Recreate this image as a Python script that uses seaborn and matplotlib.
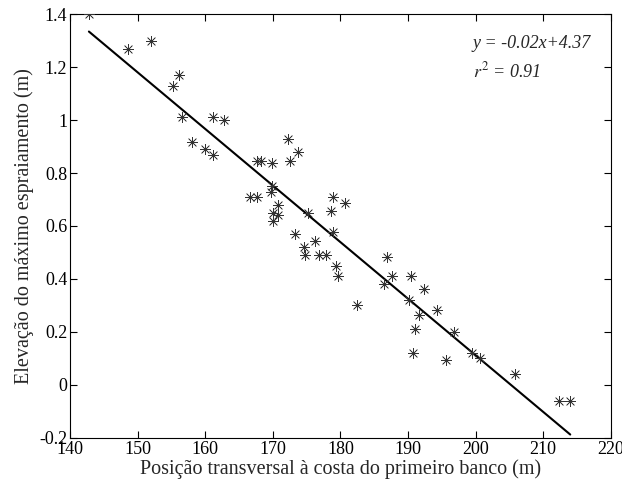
import numpy as np
import pandas as pd
import seaborn as sns
import matplotlib.pyplot as plt
from matplotlib.ticker import FuncFormatter

# Data
posicao = [142.8, 148.6, 152.0, 156.1, 155.3, 156.6, 161.2, 162.8, 158.1, 159.9,
           161.2, 172.3, 173.8, 167.6, 168.3, 169.9, 172.6, 169.9, 169.7, 166.7,
           167.7, 170.8, 170.0, 170.7, 170.0, 175.2, 178.9, 178.6, 178.9, 173.3,
           176.3, 174.6, 174.8, 176.8, 177.9, 179.4, 179.6, 180.7, 182.4, 186.9,
           187.7, 186.5, 190.5, 192.4, 190.1, 191.7, 194.3, 191.0, 196.8, 190.8,
           195.6, 199.4, 200.6, 205.8, 212.3, 214.0]
elevacao = [1.40, 1.27, 1.30, 1.17, 1.128, 1.01, 1.01, 1.00, 0.918, 0.892,
            0.868, 0.928, 0.878, 0.846, 0.846, 0.839, 0.846, 0.751, 0.73, 0.708,
            0.708, 0.679, 0.648, 0.642, 0.62, 0.648, 0.708, 0.658, 0.578, 0.57,
            0.543, 0.522, 0.49, 0.49, 0.49, 0.45, 0.412, 0.688, 0.30, 0.482,
            0.411, 0.381, 0.411, 0.362, 0.321, 0.264, 0.283, 0.211, 0.198, 0.12,
            0.095, 0.12, 0.10, 0.04, -0.06, -0.06]

df = pd.DataFrame({"x": posicao, "y": elevacao})

sns.set_style("ticks")
plt.rcParams['font.family'] = ['Liberation Serif', 'DejaVu Serif']
plt.rcParams['mathtext.fontset'] = 'stix'

fig = plt.figure(figsize=(6.22, 4.86), dpi=100)
ax = fig.add_axes([0.1125, 0.099, 0.8695, 0.872])

sns.scatterplot(data=df, x="x", y="y", marker=(8, 2, 0), s=55, color="#333333",
                linewidth=0.5, edgecolor="#333333", ax=ax, zorder=3)
sns.regplot(data=df, x="x", y="y", scatter=False, ci=None, truncate=True,
            line_kws={"color": "black", "linewidth": 1.5}, ax=ax)

ax.set_xlim(140, 220)
ax.set_ylim(-0.2, 1.4)
ax.set_xticks(np.arange(140, 221, 10))
ax.set_yticks(np.arange(-0.2, 1.41, 0.2))
ax.yaxis.set_major_formatter(FuncFormatter(lambda v, p: f"{round(v, 1):g}"))
ax.tick_params(direction="in", top=True, right=True, length=5, width=0.8,
               labelsize=13, colors="black", pad=2)
for s in ax.spines.values():
    s.set_linewidth(0.8)
    s.set_color("black")

ax.set_xlabel("Posição transversal à costa do primeiro banco (m)", fontsize=14.5, labelpad=1)
ax.set_ylabel("Elevação do máximo espraiamento (m)", fontsize=14.5, labelpad=4)

ax.text(0.745, 0.93, "y = -0.02x+4.37", transform=ax.transAxes, fontsize=13,
        style="italic", va="center")
ax.text(0.745, 0.864, "$r^2$ = 0.91", transform=ax.transAxes, fontsize=13,
        style="italic", va="center")

fig.savefig("out.png", dpi=100)
